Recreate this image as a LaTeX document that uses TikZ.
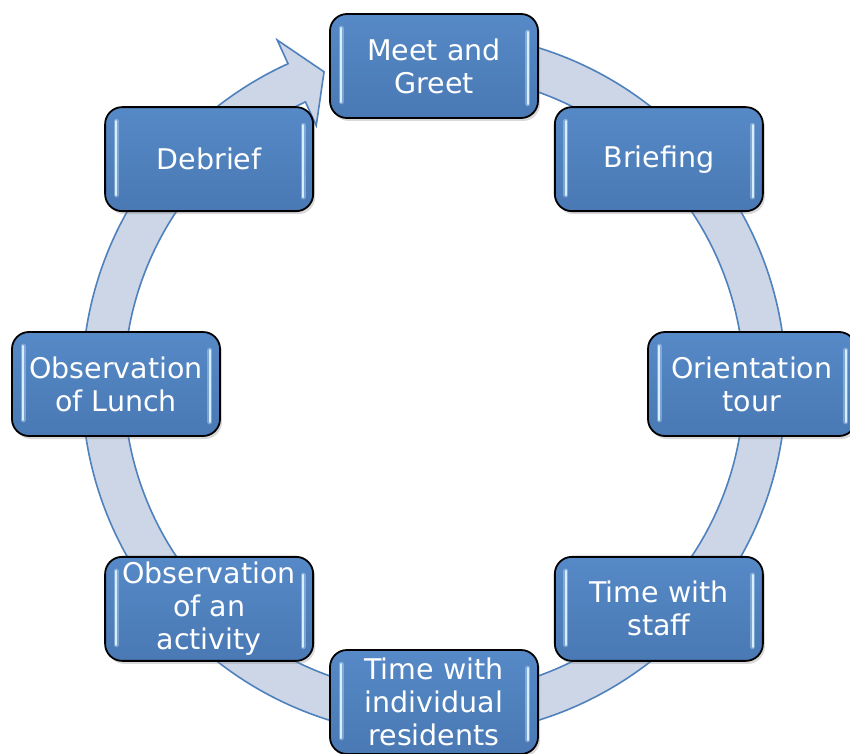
\documentclass[tikz,border=0pt]{standalone}
\usepackage{fontspec}
\setmainfont{DejaVu Sans}
\usetikzlibrary{shadows}
\definecolor{boxblue}{RGB}{79,129,189}
\definecolor{boxlight}{RGB}{86,137,199}
\definecolor{boxdark}{RGB}{74,121,180}
\definecolor{bandfill}{RGB}{205,214,230}
\definecolor{bandline}{RGB}{79,129,189}
\definecolor{glowc}{RGB}{215,238,255}
\begin{document}
\begin{tikzpicture}[x=1pt,y=1pt,
  cyclebox/.style={rounded corners=17pt, draw=black, line width=1.8pt,
    top color=boxlight, bottom color=boxdark, middle color=boxblue,
    minimum width=208pt, minimum height=104pt, text=white,
    font=\fontsize{28.5}{33}\selectfont, align=center, inner sep=0pt,
    drop shadow={opacity=0.3, shadow xshift=2pt, shadow yshift=-3pt}},
  band/.style={fill=bandfill, draw=bandline, line width=1.6pt, line join=miter},
  hlglow/.style={draw=glowc, line width=5pt, line cap=round, opacity=0.35},
  hlline/.style={draw=glowc, line width=2.4pt, line cap=round}]
\useasboundingbox (-434,-369) rectangle (416,384);
% circular arrow band
\draw[band] (85:352) arc[start angle=85, end angle=-245.5, radius=352]
  -- (-245.5:378) -- (-250.6:331) -- (-245.5:284) -- (-245.5:310)
  arc[start angle=-245.5, end angle=85, radius=310] -- cycle;
% boxes
\node[cyclebox] (b1) at (90:318) {Meet and\\Greet};
\node[cyclebox] (b2) at (45:318) {Briefing};
\node[cyclebox] (b3) at (0:318) {Orientation\\tour};
\node[cyclebox] (b4) at (-45:318) {Time with\\staff};
\node[cyclebox] (b5) at (-90:318) {Time with\\individual\\residents};
\node[cyclebox] (b6) at (-135:318) {Observation\\of an\\activity};
\node[cyclebox] (b7) at (180:318) {Observation\\of Lunch};
\node[cyclebox] (b8) at (135:318) {Debrief};
% highlight lines
\foreach \n in {b1,b2,b3,b4,b5,b6,b7,b8}{
  \draw[hlglow] ([xshift=12pt,yshift=-15pt]\n.north west) -- ([xshift=12pt,yshift=17pt]\n.south west);
  \draw[hlline] ([xshift=12pt,yshift=-15pt]\n.north west) -- ([xshift=12pt,yshift=17pt]\n.south west);
  \draw[hlglow] ([xshift=-11pt,yshift=-19pt]\n.north east) -- ([xshift=-11pt,yshift=15pt]\n.south east);
  \draw[hlline] ([xshift=-11pt,yshift=-19pt]\n.north east) -- ([xshift=-11pt,yshift=15pt]\n.south east);
}
\end{tikzpicture}
\end{document}
